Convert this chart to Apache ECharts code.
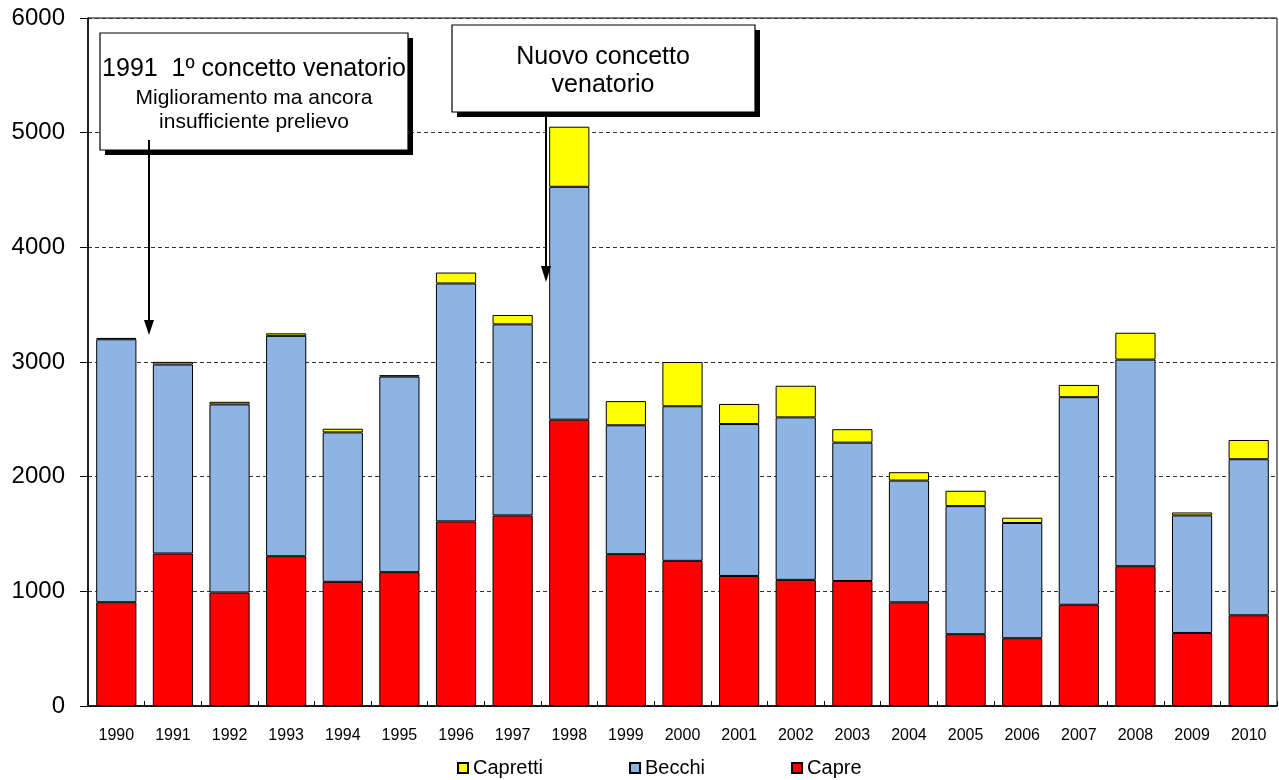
<!DOCTYPE html>
<html>
<head>
<meta charset="utf-8">
<script src="https://cdn.jsdelivr.net/npm/echarts@6/dist/echarts.min.js"></script>
<style>html,body{margin:0;padding:0;background:#fff;}#c{width:1279px;height:780px;}</style>
</head>
<body>
<div id="c"></div>
<script>
const years = ['1990','1991','1992','1993','1994','1995','1996','1997','1998','1999','2000','2001','2002','2003','2004','2005','2006','2007','2008','2009','2010'];
const capre    = [905,1330,990,1306,1083,1167,1610,1662,2497,1324,1266,1134,1100,1090,904,626,591,883,1219,637,791];
const becchi   = [2293,1648,1640,1922,1303,1706,2075,1666,2031,1124,1348,1325,1417,1207,1062,1117,1005,1810,1802,1025,1361];
const capretti = [12,23,23,22,32,12,95,82,524,211,386,175,276,117,73,134,46,107,234,26,168];
const yTicks = [0,1000,2000,3000,4000,5000,6000];

const FONT = '"Liberation Sans", Arial, sans-serif';
const chart = echarts.init(document.getElementById('c'));
const barStyle = (c) => ({color: c, borderColor: '#000', borderWidth: 1});
chart.setOption({
  animation: false,
  textStyle: {fontFamily: FONT},
  grid: {left: 88, right: 2, top: 18, bottom: 74, show: true, borderColor: '#000', borderWidth: 1},
  legend: {
    data: ['Capretti','Becchi','Capre'],
    top: 753, left: 452,
    itemWidth: 10, itemHeight: 10, itemGap: 86,
    textStyle: {fontFamily: FONT, fontSize: 20, color: '#000'},
    icon: 'rect'
  },
  xAxis: {
    type: 'category', data: years,
    axisLine: {lineStyle: {color: '#000', width: 1.5}},
    axisTick: {show: true, inside: true, length: 5, lineStyle: {color: '#000'}},
    axisLabel: {fontFamily: FONT, fontSize: 16, color: '#000', margin: 22}
  },
  yAxis: {
    type: 'value', min: yTicks[0], max: yTicks[yTicks.length-1], interval: 1000,
    axisLine: {show: true, lineStyle: {color: '#000', width: 1.5}},
    axisTick: {show: true, length: 8, lineStyle: {color: '#000'}},
    axisLabel: {fontFamily: FONT, fontSize: 24, color: '#000', margin: 23, formatter: (v) => String(v)},
    splitLine: {show: true, lineStyle: {color: '#333', type: [4,3], width: 1}}
  },
  series: [
    {name: 'Capre', type: 'bar', stack: 't', data: capre, barWidth: '71%', itemStyle: barStyle('#FF0000')},
    {name: 'Becchi', type: 'bar', stack: 't', data: becchi, barWidth: '71%', itemStyle: barStyle('#8EB4E3')},
    {name: 'Capretti', type: 'bar', stack: 't', data: capretti, barWidth: '71%', itemStyle: barStyle('#FFFF00')}
  ],
  graphic: [
    // box 1
    {type: 'rect', shape: {x: 105, y: 38, width: 308, height: 117}, style: {fill: '#000'}, z: 100},
    {type: 'rect', shape: {x: 100, y: 33, width: 308, height: 117}, style: {fill: '#fff', stroke: '#000', lineWidth: 1.2}, z: 101},
    {type: 'text', x: 254, y: 69, style: {text: '1991  1º concetto venatorio', font: '25px ' + FONT, fill: '#000', align: 'center', verticalAlign: 'middle'}, z: 102},
    {type: 'text', x: 254, y: 98, style: {text: 'Miglioramento ma ancora', font: '21px ' + FONT, fill: '#000', align: 'center', verticalAlign: 'middle'}, z: 102},
    {type: 'text', x: 254, y: 122, style: {text: 'insufficiente prelievo', font: '21px ' + FONT, fill: '#000', align: 'center', verticalAlign: 'middle'}, z: 102},
    {type: 'line', shape: {x1: 149, y1: 140, x2: 149, y2: 322}, style: {stroke: '#000', lineWidth: 2}, z: 102},
    {type: 'polygon', shape: {points: [[144, 320], [154, 320], [149, 335]]}, style: {fill: '#000'}, z: 102},
    // box 2
    {type: 'rect', shape: {x: 457, y: 30, width: 303, height: 87}, style: {fill: '#000'}, z: 100},
    {type: 'rect', shape: {x: 452, y: 25, width: 303, height: 87}, style: {fill: '#fff', stroke: '#000', lineWidth: 1.2}, z: 101},
    {type: 'text', x: 603, y: 57, style: {text: 'Nuovo concetto', font: '25px ' + FONT, fill: '#000', align: 'center', verticalAlign: 'middle'}, z: 102},
    {type: 'text', x: 603, y: 85, style: {text: 'venatorio', font: '25px ' + FONT, fill: '#000', align: 'center', verticalAlign: 'middle'}, z: 102},
    {type: 'line', shape: {x1: 546, y1: 117, x2: 546, y2: 268}, style: {stroke: '#000', lineWidth: 2}, z: 102},
    {type: 'polygon', shape: {points: [[541, 266], [551, 266], [546, 282]]}, style: {fill: '#000'}, z: 102}
  ]
});
</script>
</body>
</html>
